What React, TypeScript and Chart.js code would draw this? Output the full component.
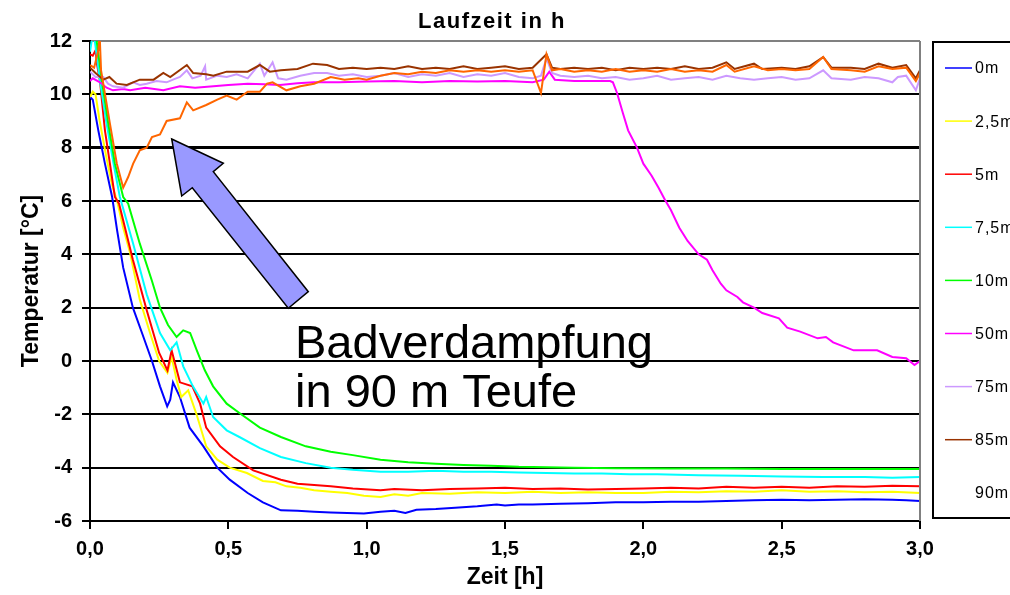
import React, { useEffect, useRef } from "react";
import { Chart, registerables } from "chart.js";

Chart.register(...registerables);

const FONT = "'Liberation Sans', Arial, Helvetica, sans-serif";

const chartTitle = "Laufzeit in h";
const xAxisTitle = "Zeit [h]";
const yAxisTitle = "Temperatur [°C]";
const noteLines = ["Badverdampfung", "in 90 m Teufe"];

const xMin = 0;
const xMax = 3;
const xStep = 0.5;
const yMin = -6;
const yMax = 12;
const yStep = 2;

const seriesLabels = ["0m", "2,5m", "5m", "7,5m", "10m", "50m", "75m", "85m", "90m"];
const seriesColors = ["#0000FF", "#FFFF00", "#FF0000", "#00FFFF", "#00FF00", "#FF00FF", "#CC99FF", "#993300", "#FF6600"];

// [time h, temperature °C]
const s0m: [number, number][] = [[0,9.9],[0.01,9.8],[0.03,8.65],[0.054,7.4],[0.08,6.15],[0.098,4.9],[0.12,3.5],[0.155,2.0],[0.188,1.05],[0.224,0],[0.253,-0.95],[0.279,-1.7],[0.29,-1.45],[0.3,-0.8],[0.325,-1.35],[0.36,-2.5],[0.41,-3.2],[0.46,-4.0],[0.505,-4.45],[0.57,-4.95],[0.625,-5.3],[0.69,-5.6],[0.75,-5.62],[0.81,-5.65],[0.87,-5.68],[0.93,-5.7],[0.99,-5.72],[1.05,-5.65],[1.1,-5.62],[1.14,-5.7],[1.18,-5.58],[1.25,-5.55],[1.32,-5.5],[1.4,-5.45],[1.47,-5.38],[1.5,-5.42],[1.55,-5.38],[1.6,-5.38],[1.7,-5.35],[1.8,-5.33],[1.9,-5.3],[2.0,-5.3],[2.1,-5.28],[2.2,-5.28],[2.3,-5.25],[2.4,-5.22],[2.5,-5.2],[2.6,-5.22],[2.7,-5.2],[2.8,-5.18],[2.9,-5.2],[2.95,-5.22],[3.0,-5.25]];
const s2_5m: [number, number][] = [[0,9.9],[0.01,10.1],[0.02,10.0],[0.035,9.0],[0.06,7.6],[0.08,6.6],[0.098,6.0],[0.12,5.0],[0.145,4.05],[0.18,2.3],[0.217,1.05],[0.25,0],[0.28,-0.45],[0.295,0.15],[0.313,-0.7],[0.33,-1.35],[0.355,-1.1],[0.385,-2.0],[0.42,-3.2],[0.46,-3.7],[0.505,-4.0],[0.567,-4.2],[0.625,-4.5],[0.67,-4.55],[0.71,-4.7],[0.76,-4.75],[0.81,-4.85],[0.87,-4.9],[0.93,-4.95],[0.99,-5.05],[1.05,-5.1],[1.1,-5.0],[1.15,-5.05],[1.2,-4.95],[1.3,-4.98],[1.4,-4.92],[1.5,-4.95],[1.6,-4.9],[1.7,-4.95],[1.8,-4.92],[1.9,-4.95],[2.0,-4.95],[2.1,-4.9],[2.2,-4.92],[2.3,-4.88],[2.4,-4.9],[2.5,-4.85],[2.6,-4.9],[2.7,-4.88],[2.8,-4.92],[2.9,-4.9],[3.0,-4.95]];
const s5m: [number, number][] = [[0,11.5],[0.01,11.45],[0.02,11.65],[0.025,11.15],[0.036,10.5],[0.054,8.65],[0.072,7.4],[0.09,6.15],[0.105,5.9],[0.155,3.8],[0.205,1.9],[0.25,0.3],[0.28,-0.35],[0.295,0.4],[0.325,-0.8],[0.37,-0.95],[0.398,-1.6],[0.42,-2.5],[0.47,-3.2],[0.517,-3.6],[0.59,-4.1],[0.69,-4.45],[0.75,-4.6],[0.81,-4.65],[0.87,-4.7],[0.95,-4.78],[1.05,-4.85],[1.1,-4.8],[1.2,-4.85],[1.3,-4.8],[1.4,-4.78],[1.5,-4.75],[1.6,-4.8],[1.7,-4.78],[1.8,-4.82],[1.9,-4.8],[2.0,-4.78],[2.1,-4.75],[2.2,-4.78],[2.3,-4.72],[2.4,-4.75],[2.5,-4.72],[2.6,-4.75],[2.7,-4.7],[2.8,-4.72],[2.9,-4.68],[3.0,-4.7]];
const s7_5m: [number, number][] = [[0,11.6],[0.012,12.4],[0.02,11.8],[0.036,10.5],[0.06,8.9],[0.085,7.4],[0.108,6.15],[0.156,4.4],[0.205,2.5],[0.253,1.05],[0.29,0.4],[0.313,0.7],[0.337,-0.2],[0.372,-0.95],[0.41,-1.6],[0.42,-1.35],[0.445,-2.1],[0.494,-2.6],[0.54,-2.85],[0.614,-3.27],[0.69,-3.6],[0.78,-3.83],[0.87,-4.0],[0.95,-4.08],[1.05,-4.15],[1.15,-4.15],[1.25,-4.12],[1.35,-4.15],[1.45,-4.15],[1.55,-4.18],[1.65,-4.2],[1.75,-4.22],[1.85,-4.22],[1.95,-4.25],[2.05,-4.25],[2.2,-4.28],[2.35,-4.3],[2.5,-4.33],[2.65,-4.35],[2.8,-4.35],[2.9,-4.38],[3.0,-4.35]];
const s10m: [number, number][] = [[0,12.6],[0.024,12.0],[0.043,10.5],[0.066,8.9],[0.09,7.4],[0.12,6.15],[0.138,5.9],[0.18,4.4],[0.224,3.0],[0.253,2.0],[0.282,1.35],[0.313,0.9],[0.337,1.15],[0.362,1.05],[0.386,0.4],[0.415,-0.35],[0.445,-0.95],[0.494,-1.6],[0.54,-1.95],[0.614,-2.5],[0.69,-2.85],[0.78,-3.2],[0.87,-3.4],[0.95,-3.53],[1.05,-3.7],[1.15,-3.8],[1.25,-3.85],[1.35,-3.9],[1.45,-3.93],[1.55,-3.97],[1.65,-3.98],[1.75,-4.0],[1.9,-4.02],[2.1,-4.03],[2.3,-4.03],[2.5,-4.05],[2.7,-4.05],[2.9,-4.05],[3.0,-4.05]];
const s50m: [number, number][] = [[0,10.5],[0.01,10.6],[0.036,10.45],[0.06,10.25],[0.083,10.15],[0.12,10.2],[0.145,10.15],[0.2,10.25],[0.265,10.15],[0.325,10.3],[0.38,10.25],[0.446,10.3],[0.5,10.35],[0.57,10.4],[0.63,10.38],[0.687,10.35],[0.75,10.42],[0.81,10.45],[0.9,10.45],[1.0,10.48],[1.1,10.5],[1.2,10.45],[1.3,10.5],[1.4,10.48],[1.5,10.5],[1.6,10.45],[1.64,10.55],[1.66,10.85],[1.68,10.55],[1.75,10.5],[1.82,10.5],[1.88,10.5],[1.89,10.45],[1.905,10.05],[1.926,9.3],[1.945,8.65],[1.977,8.0],[2.0,7.4],[2.03,6.95],[2.055,6.5],[2.078,6.05],[2.1,5.65],[2.13,5.0],[2.16,4.5],[2.2,4.0],[2.23,3.8],[2.25,3.4],[2.28,2.9],[2.3,2.65],[2.34,2.4],[2.36,2.2],[2.4,2.0],[2.43,1.8],[2.49,1.6],[2.52,1.25],[2.567,1.1],[2.63,0.85],[2.66,0.9],[2.686,0.7],[2.76,0.4],[2.845,0.4],[2.9,0.15],[2.95,0.1],[2.98,-0.15],[3.0,0.0]];
const s75m: [number, number][] = [[0,10.85],[0.02,10.65],[0.048,10.65],[0.065,10.4],[0.083,10.3],[0.12,10.25],[0.156,10.45],[0.18,10.35],[0.205,10.4],[0.24,10.5],[0.277,10.45],[0.3,10.55],[0.325,10.65],[0.35,10.9],[0.37,10.6],[0.4,10.7],[0.416,11.05],[0.42,10.55],[0.46,10.7],[0.494,10.65],[0.53,10.75],[0.57,10.6],[0.614,11.15],[0.63,10.7],[0.66,11.2],[0.68,10.6],[0.71,10.55],[0.76,10.7],[0.81,10.8],[0.857,10.8],[0.9,10.7],[0.95,10.75],[1.0,10.65],[1.05,10.7],[1.1,10.8],[1.15,10.65],[1.2,10.75],[1.25,10.7],[1.3,10.8],[1.35,10.65],[1.4,10.75],[1.45,10.7],[1.5,10.8],[1.55,10.65],[1.6,10.6],[1.63,10.7],[1.65,11.35],[1.67,10.8],[1.7,10.7],[1.75,10.65],[1.8,10.7],[1.85,10.6],[1.9,10.65],[1.95,10.55],[2.0,10.6],[2.05,10.7],[2.1,10.55],[2.15,10.6],[2.2,10.65],[2.25,10.55],[2.3,10.7],[2.35,10.6],[2.4,10.55],[2.45,10.6],[2.5,10.65],[2.55,10.55],[2.6,10.6],[2.65,10.9],[2.68,10.6],[2.75,10.55],[2.8,10.65],[2.85,10.6],[2.9,10.45],[2.92,10.65],[2.95,10.7],[2.985,10.15],[3.0,10.6]];
const s85m: [number, number][] = [[0,11.0],[0.02,10.8],[0.048,10.55],[0.07,10.65],[0.096,10.4],[0.133,10.35],[0.18,10.55],[0.23,10.55],[0.265,10.8],[0.29,10.65],[0.35,11.1],[0.373,10.8],[0.42,10.75],[0.446,10.7],[0.494,10.85],[0.57,10.85],[0.614,11.1],[0.65,10.85],[0.69,10.9],[0.75,10.95],[0.806,11.15],[0.857,11.1],[0.9,10.95],[0.95,11.0],[1.0,10.95],[1.05,11.0],[1.1,10.95],[1.15,11.05],[1.2,10.95],[1.25,11.0],[1.3,10.95],[1.35,11.05],[1.4,10.95],[1.45,11.0],[1.5,11.05],[1.55,10.95],[1.6,11.0],[1.65,11.5],[1.67,11.0],[1.7,10.95],[1.75,11.0],[1.8,10.95],[1.85,11.0],[1.9,10.9],[1.95,11.0],[2.0,10.95],[2.05,11.0],[2.1,10.95],[2.15,11.05],[2.2,10.95],[2.25,11.0],[2.3,11.2],[2.33,10.95],[2.4,11.15],[2.43,10.95],[2.5,11.0],[2.55,10.95],[2.6,11.05],[2.65,11.4],[2.68,11.0],[2.75,11.0],[2.8,10.95],[2.85,11.15],[2.9,11.0],[2.95,11.1],[2.985,10.6],[3.0,10.9]];
const s90m: [number, number][] = [[0,11.1],[0.015,11.0],[0.03,11.65],[0.035,12.2],[0.04,10.9],[0.072,8.9],[0.097,7.4],[0.12,6.5],[0.138,6.9],[0.156,7.4],[0.18,7.9],[0.205,8.0],[0.224,8.4],[0.253,8.5],[0.277,9.0],[0.325,9.1],[0.35,9.7],[0.373,9.4],[0.42,9.6],[0.46,9.8],[0.494,9.95],[0.53,9.8],[0.57,10.1],[0.614,10.1],[0.64,10.4],[0.66,10.45],[0.71,10.15],[0.76,10.3],[0.81,10.4],[0.87,10.65],[0.92,10.55],[0.97,10.6],[1.0,10.55],[1.05,10.7],[1.1,10.8],[1.15,10.75],[1.2,10.85],[1.25,10.8],[1.3,10.9],[1.35,10.85],[1.4,10.9],[1.45,10.85],[1.5,10.9],[1.55,10.85],[1.6,10.9],[1.63,10.05],[1.65,11.5],[1.67,10.9],[1.7,10.95],[1.75,10.85],[1.8,10.9],[1.85,10.85],[1.9,10.95],[1.95,10.85],[2.0,10.9],[2.05,10.85],[2.1,10.95],[2.15,10.85],[2.2,10.9],[2.25,10.85],[2.3,11.1],[2.33,10.85],[2.4,11.05],[2.45,10.9],[2.5,10.95],[2.55,10.9],[2.6,10.95],[2.65,11.4],[2.68,10.95],[2.75,10.9],[2.8,10.85],[2.85,11.05],[2.9,10.95],[2.95,11.0],[2.985,10.5],[3.0,10.8]];

const seriesData = [s0m, s2_5m, s5m, s7_5m, s10m, s50m, s75m, s85m, s90m];

const titlePlugin = {
  id: "mainTitle",
  afterDraw(chart: any) {
    const ctx = chart.ctx;
    ctx.save();
    ctx.font = `bold 22px ${FONT}`;
    (ctx as any).letterSpacing = "1.5px";
    ctx.fillStyle = "#000";
    ctx.textAlign = "center";
    ctx.textBaseline = "middle";
    ctx.fillText(chartTitle, 492, 22);
    ctx.restore();
  },
};

const framePlugin = {
  id: "frame",
  afterDraw(chart: any) {
    const { ctx, chartArea } = chart;
    ctx.save();
    ctx.strokeStyle = "#808080";
    ctx.lineWidth = 2;
    ctx.beginPath();
    ctx.moveTo(chartArea.right, chartArea.top);
    ctx.lineTo(chartArea.right, chartArea.bottom);
    ctx.stroke();
    ctx.restore();
  },
};

const notePlugin = {
  id: "note",
  afterDatasetsDraw(chart: any) {
    const ctx = chart.ctx;
    ctx.save();
    ctx.beginPath();
    ctx.moveTo(171.7, 139);
    ctx.lineTo(223.3, 163.3);
    ctx.lineTo(213.3, 171.7);
    ctx.lineTo(308.3, 291.7);
    ctx.lineTo(288.3, 308.3);
    ctx.lineTo(192.3, 187.7);
    ctx.lineTo(181.7, 196);
    ctx.closePath();
    ctx.fillStyle = "#9999FF";
    ctx.fill();
    ctx.strokeStyle = "#000";
    ctx.lineWidth = 1.5;
    ctx.stroke();
    ctx.font = `47px ${FONT}`;
    ctx.fillStyle = "#000";
    ctx.textAlign = "left";
    ctx.textBaseline = "alphabetic";
    ctx.fillText(noteLines[0], 295, 358);
    ctx.fillText(noteLines[1], 295, 407);
    ctx.restore();
  },
};

const legendPlugin = {
  id: "sideLegend",
  afterDraw(chart: any) {
    const ctx = chart.ctx;
    ctx.save();
    ctx.strokeStyle = "#000";
    ctx.lineWidth = 2;
    ctx.strokeRect(933, 42, 100, 476);
    ctx.font = `16px ${FONT}`;
    (ctx as any).letterSpacing = "1px";
    ctx.textAlign = "left";
    ctx.textBaseline = "middle";
    chart.data.datasets.forEach((ds: any, i: number) => {
      const y = 68 + i * 53.1;
      if (i < seriesLabels.length - 1) {
        ctx.strokeStyle = ds.borderColor;
        ctx.lineWidth = 1.5;
        ctx.beginPath();
        ctx.moveTo(945, y);
        ctx.lineTo(972, y);
        ctx.stroke();
      }
      ctx.fillStyle = "#000";
      ctx.fillText(ds.label, 975, y + 1);
    });
    ctx.restore();
  },
};

export default function App() {
  const ref = useRef<HTMLCanvasElement | null>(null);
  useEffect(() => {
    if (!ref.current) return;
    const datasets = seriesData.map((pts, i) => ({
      label: seriesLabels[i],
      data: pts.map(([x, y]) => ({ x, y })),
      borderColor: seriesColors[i],
      backgroundColor: seriesColors[i],
      borderWidth: 2,
      pointRadius: 0,
      tension: 0,
      fill: false,
      order: seriesLabels.length - i,
    }));
    const chart = new Chart(ref.current, {
      type: "line",
      data: { datasets },
      options: {
        responsive: false,
        animation: false,
        layout: { padding: { left: 0, right: 90, top: 41, bottom: 0 } },
        plugins: {
          legend: { display: false },
          title: { display: false },
          tooltip: { enabled: false },
        },
        scales: {
          x: {
            type: "linear",
            min: xMin,
            max: xMax,
            ticks: {
              stepSize: xStep,
              callback: (v: any) => Number(v).toFixed(1).replace(".", ","),
              font: { family: FONT, size: 20, weight: "bold" },
              color: "#000",
              padding: 8,
              maxRotation: 0,
            },
            grid: { drawOnChartArea: false, drawTicks: true, tickLength: 8, tickColor: "#000", lineWidth: 2, color: "#000" },
            border: { color: "#000", width: 2 },
            title: {
              display: true,
              text: xAxisTitle,
              font: { family: FONT, size: 23, weight: "bold" },
              color: "#000",
              padding: { top: 0, bottom: 4 },
            },
            afterFit: (s: any) => { s.height = 74; },
          },
          y: {
            type: "linear",
            min: yMin,
            max: yMax,
            ticks: {
              stepSize: yStep,
              font: { family: FONT, size: 20, weight: "bold" },
              color: "#000",
              padding: 10,
            },
            grid: {
              color: (c: any) => (c.tick && c.tick.value === yMax ? "#808080" : "#000"),
              lineWidth: (c: any) => (c.tick && c.tick.value === 8 ? 3 : 2),
              tickColor: "#000",
              tickLength: 8,
            },
            border: { color: "#000", width: 2 },
            title: {
              display: true,
              text: yAxisTitle,
              font: { family: FONT, size: 23, weight: "bold" },
              color: "#000",
              padding: { top: 18, bottom: 0 },
            },
            afterFit: (s: any) => { s.width = 90; },
          },
        },
      } as any,
      plugins: [titlePlugin, framePlugin, notePlugin, legendPlugin],
    });
    return () => chart.destroy();
  }, []);
  return (
    <div style={{ position: "absolute", left: 0, top: 0, width: 1010, height: 595, background: "#fff" }}>
      <canvas ref={ref} width={1010} height={595} />
    </div>
  );
}
